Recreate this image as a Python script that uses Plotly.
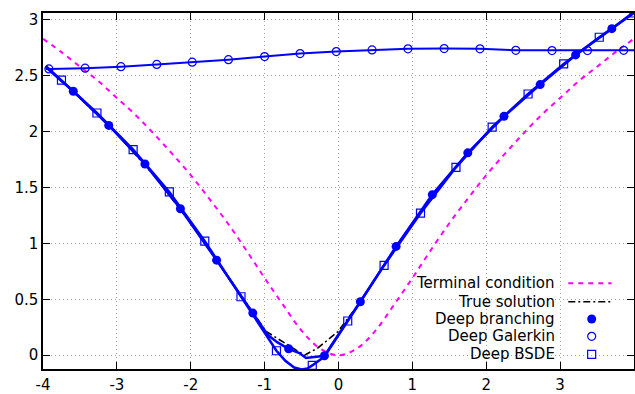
import plotly.graph_objects as go

# ---------------- data ----------------
# Terminal condition (magenta dashed)
term_x = [-4, -3.75, -3.5, -3.25, -3, -2.75, -2.5, -2.25, -2, -1.75, -1.5, -1.25, -1, -0.75, -0.5, -0.25,
          0, 0.25, 0.5, 0.75, 1, 1.25, 1.5, 1.75, 2, 2.25, 2.5, 2.75, 3, 3.25, 3.5, 3.75, 4]
term_y = [2.83, 2.71, 2.58, 2.45, 2.30, 2.15, 1.98, 1.80, 1.61, 1.40, 1.18, 0.94, 0.69, 0.45, 0.22, 0.06,
          0.0, 0.06, 0.22, 0.45, 0.69, 0.94, 1.18, 1.40, 1.61, 1.80, 1.98, 2.15, 2.30, 2.45, 2.58, 2.71, 2.83]

# True solution (black dash-dot)
true_x = [-3.96, -3.5, -3.0, -2.5, -2.0, -1.5, -1.16, -0.98, -0.46, -0.28, -0.01, 0.30, 0.78, 1.27, 1.75,
          2.24, 2.73, 3.21, 3.70, 4.0]
true_y = [2.575, 2.30, 1.98, 1.61, 1.18, 0.705, 0.377, 0.213, 0.0, 0.065, 0.21, 0.48, 0.973, 1.436, 1.81,
          2.136, 2.42, 2.685, 2.92, 3.07]

# Deep branching (filled circles)
branch_mx = [-3.59, -3.11, -2.62, -2.14, -1.65, -1.16, -0.675, -0.19, 0.296, 0.78, 1.27, 1.75, 2.24, 2.73, 3.21, 3.70]
branch_my = [2.36, 2.055, 1.71, 1.31, 0.85, 0.377, 0.058, -0.005, 0.478, 0.973, 1.436, 1.81, 2.136, 2.42, 2.685, 2.92]
branch_ex = [-3.96, -0.96, -0.825, -0.53, -0.44, 4.0]
branch_ey = [2.575, 0.183, 0.115, 0.02, -0.025, 3.07]

# Deep Galerkin (open circles)
gal_mx = [-3.92, -3.43, -2.945, -2.46, -1.98, -1.49, -1.0, -0.52, -0.03, 0.454, 0.94, 1.43, 1.915, 2.40, 2.89, 3.37, 3.86]
gal_my = [2.56, 2.567, 2.58, 2.60, 2.62, 2.643, 2.67, 2.697, 2.715, 2.73, 2.74, 2.742, 2.74, 2.726, 2.724, 2.724, 2.726]
gal_ex = [-3.96, 4.0]
gal_ey = [2.56, 2.726]

# Deep BSDE (open squares)
bsde_mx = [-3.75, -3.27, -2.78, -2.29, -1.81, -1.32, -0.84, -0.355, 0.125, 0.617, 1.11, 1.59, 2.08, 2.566, 3.048, 3.53, 4.0]
bsde_my = [2.46, 2.166, 1.838, 1.46, 1.02, 0.523, 0.04, -0.091, 0.306, 0.803, 1.27, 1.68, 2.04, 2.336, 2.605, 2.843, 3.06]
bsde_ex = [-3.96, -0.72, -0.6, -0.5, -0.42, -0.19, -0.10]
bsde_ey = [2.585, -0.05, -0.11, -0.128, -0.118, -0.012, 0.08]

x_ticks = [-4, -3, -2, -1, 0, 1, 2, 3, 4]
x_ticktext = ["-4", "-3", "-2", "-1", "0", "1", "2", "3", "4"]
y_ticks = [0, 0.5, 1, 1.5, 2, 2.5, 3]
y_ticktext = ["0", "0.5", "1", "1.5", "2", "2.5", "3"]

legend_names = ["Terminal condition", "True solution", "Deep branching", "Deep Galerkin", "Deep BSDE"]

# ---------------- styling ----------------
XR = [-4, 4]
YR = [-0.123, 3.06]
BLUE = "#0000ff"
MAG = "#ff00ff"
FONT = "DejaVu Sans"


def merged(mx, my, ex, ey):
    pts = sorted(zip(list(mx) + list(ex), list(my) + list(ey)))
    return [p[0] for p in pts], [p[1] for p in pts]


fig = go.Figure()

fig.add_trace(go.Scatter(x=term_x, y=term_y, mode="lines", line=dict(color=MAG, width=2, dash="5px,5px", shape="spline"),
                         showlegend=False))
fig.add_trace(go.Scatter(x=true_x, y=true_y, mode="lines", line=dict(color="black", width=1.6, dash="7px,3px,2px,3px"),
                         showlegend=False))

bx, by = merged(branch_mx, branch_my, branch_ex, branch_ey)
fig.add_trace(go.Scatter(x=bx, y=by, mode="lines", line=dict(color=BLUE, width=2.5), showlegend=False))
fig.add_trace(go.Scatter(x=branch_mx, y=branch_my, mode="markers",
                         marker=dict(symbol="circle", size=9, color=BLUE, line=dict(width=0)), showlegend=False))

gx, gy = merged(gal_mx, gal_my, gal_ex, gal_ey)
fig.add_trace(go.Scatter(x=gx, y=gy, mode="lines", line=dict(color=BLUE, width=2), showlegend=False))
fig.add_trace(go.Scatter(x=gal_mx, y=gal_my, mode="markers",
                         marker=dict(symbol="circle-open", size=8, color=BLUE, line=dict(width=1.2, color=BLUE)),
                         showlegend=False))

sx, sy = merged(bsde_mx, bsde_my, bsde_ex, bsde_ey)
fig.add_trace(go.Scatter(x=sx, y=sy, mode="lines", line=dict(color=BLUE, width=2.5), showlegend=False))
fig.add_trace(go.Scatter(x=bsde_mx, y=bsde_my, mode="markers",
                         marker=dict(symbol="square-open", size=8, color=BLUE, line=dict(width=1.2, color=BLUE)),
                         showlegend=False))

# ---------------- manual gnuplot-style key ----------------
key_text_x = 0.8697
key_rows = [0.2407, 0.1890, 0.1404, 0.0918, 0.0413]
key_s0, key_s1, key_m = 0.8888, 0.9621, 0.9284

for name, yy in zip(legend_names, key_rows):
    fig.add_annotation(x=key_text_x, y=yy, xref="paper", yref="paper", text=name, showarrow=False,
                       xanchor="right", yanchor="middle", font=dict(family=FONT, size=15, color="black"))

fig.add_shape(type="line", xref="paper", yref="paper", x0=key_s0, x1=key_s1, y0=key_rows[0], y1=key_rows[0],
              line=dict(color=MAG, width=2, dash="5px,5px"))
fig.add_shape(type="line", xref="paper", yref="paper", x0=key_s0, x1=key_s1, y0=key_rows[1], y1=key_rows[1],
              line=dict(color="black", width=1.6, dash="7px,3px,2px,3px"))

def px2d(p, r):
    return r[0] + p * (r[1] - r[0])

kmx = px2d(key_m, XR)
fig.add_trace(go.Scatter(x=[kmx], y=[px2d(key_rows[2], YR)], mode="markers",
                         marker=dict(symbol="circle", size=9, color=BLUE), showlegend=False))
fig.add_trace(go.Scatter(x=[kmx], y=[px2d(key_rows[3], YR)], mode="markers",
                         marker=dict(symbol="circle-open", size=8, color=BLUE, line=dict(width=1.2, color=BLUE)),
                         showlegend=False))
fig.add_trace(go.Scatter(x=[kmx], y=[px2d(key_rows[4], YR)], mode="markers",
                         marker=dict(symbol="square-open", size=8, color=BLUE, line=dict(width=1.2, color=BLUE)),
                         showlegend=False))

# opaque key box hides the grid only
fig.add_shape(type="rect", xref="paper", yref="paper", x0=0.575, x1=1.0, y0=0.0, y1=0.284,
              fillcolor="white", line=dict(width=0), layer="between")

axis_common = dict(showline=True, linecolor="black", linewidth=1.5, mirror="allticks",
                   ticks="inside", ticklen=7, tickwidth=1, tickcolor="black",
                   showgrid=True, gridcolor="#a0a0a0", gridwidth=1, griddash="1px,3px",
                   zeroline=False, automargin=False, tickfont=dict(family=FONT, size=15, color="black"))

fig.update_xaxes(range=XR, tickvals=x_ticks, ticktext=x_ticktext, ticklabelstandoff=1, **axis_common)
fig.update_yaxes(range=YR, tickvals=y_ticks, ticktext=y_ticktext, **axis_common)

fig.update_layout(width=635, height=394, margin=dict(l=43, r=1, t=13, b=25),
                  plot_bgcolor="white", paper_bgcolor="white",
                  font=dict(family=FONT, size=15, color="black"), showlegend=False)

fig.write_html("out.html")
